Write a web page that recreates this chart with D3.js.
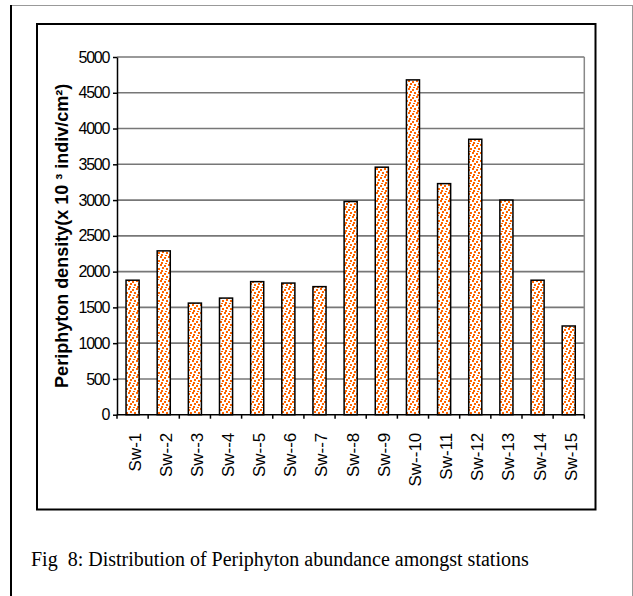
<!DOCTYPE html>
<html>
<head>
	<meta charset="utf-8">
	<title>Periphyton density</title>
	<script type="text/javascript" src="https://cdn.jsdelivr.net/npm/d3@7"></script>
	<style type="text/css">
		body { margin: 0; background: #fff; }
	</style>
</head>
<body>

<div id="chart"></div>

<script type="text/javascript">
// data
const stations = ["Sw-1", "Sw--2", "Sw--3", "Sw--4", "Sw--5", "Sw--6", "Sw--7", "Sw--8",
    "Sw--9", "Sw--10", "Sw-11", "Sw-12", "Sw-13", "Sw-14", "Sw-15"];
const density = [1880, 2290, 1560, 1630, 1860, 1840, 1790, 2980,
    3460, 4680, 3230, 3850, 3000, 1880, 1240];
const yTicks = [0, 500, 1000, 1500, 2000, 2500, 3000, 3500, 4000, 4500, 5000];

const W = 633, H = 596;
const plot = {left: 117, right: 584.3, top: 57, bottom: 414.7};

const svg = d3.select("#chart").append("svg")
    .attr("width", W)
    .attr("height", H);

// dotted fill like the excel pattern
const defs = svg.append("defs");
const pat = defs.append("pattern")
    .attr("id", "dots")
    .attr("patternUnits", "userSpaceOnUse")
    .attr("width", 8)
    .attr("height", 8);
pat.append("rect").attr("width", 8).attr("height", 8).attr("fill", "#fff");
[[0, 0], [4, 1], [2, 3], [6, 4], [1, 6], [5, 7]].forEach(function(p) {
    pat.append("rect")
        .attr("x", p[0]).attr("y", p[1])
        .attr("width", 2).attr("height", 2)
        .attr("fill", "#ff6600");
});

// page frame
svg.append("line").attr("x1", 10).attr("x2", 632.5).attr("y1", 5.5).attr("y2", 5.5)
    .style("stroke", "#999").style("stroke-width", 1);
svg.append("line").attr("x1", 632.5).attr("x2", 632.5).attr("y1", 5).attr("y2", H)
    .style("stroke", "#999").style("stroke-width", 1);
svg.append("line").attr("x1", 11).attr("x2", 11).attr("y1", 5).attr("y2", H)
    .style("stroke", "#000").style("stroke-width", 2);

// chart box
svg.append("rect")
    .attr("x", 37).attr("y", 24)
    .attr("width", 558.5).attr("height", 485.5)
    .style("fill", "none")
    .style("stroke", "#000")
    .style("stroke-width", 2);

const x = d3.scaleBand()
    .domain(stations)
    .range([plot.left, plot.right])
    .paddingInner(0.58)
    .paddingOuter(0.29);

const y = d3.scaleLinear()
    .domain([0, 5000])
    .range([plot.bottom, plot.top]);

// gridlines
svg.selectAll(".grid").data(yTicks.filter(function(d) { return d > 0; })).enter()
    .append("line")
    .attr("class", "grid")
    .attr("x1", plot.left).attr("x2", plot.right)
    .attr("y1", function(d) { return y(d); })
    .attr("y2", function(d) { return y(d); })
    .style("stroke", "#777")
    .style("stroke-width", 1.6);

svg.append("line")
    .attr("x1", plot.right).attr("x2", plot.right)
    .attr("y1", y(5000)).attr("y2", y(0))
    .style("stroke", "#888")
    .style("stroke-width", 1.5);

// bars
svg.selectAll(".bar").data(density).enter()
    .append("rect")
    .attr("class", "bar")
    .attr("x", function(d, i) { return x(stations[i]); })
    .attr("width", x.bandwidth())
    .attr("y", function(d) { return y(d); })
    .attr("height", function(d) { return y(0) - y(d); })
    .style("fill", "url(#dots)")
    .style("stroke", "#000")
    .style("stroke-width", 1.5);

// y axis
const yAxis = svg.append("g")
    .attr("transform", "translate(" + plot.left + ",0)")
    .call(d3.axisLeft(y).tickValues(yTicks).tickFormat(d3.format("d"))
        .tickSize(4).tickPadding(4).tickSizeOuter(0));
yAxis.select(".domain").style("stroke-width", 1.5);
yAxis.selectAll(".tick line").style("stroke-width", 1.5);
yAxis.selectAll("text")
    .style("font-family", "'Liberation Sans', Arial, sans-serif")
    .style("font-size", "16px")
    .style("letter-spacing", "-1.3px")
    .style("fill", "#000");

// x axis with ticks between categories
const xAxis = svg.append("g")
    .attr("transform", "translate(0," + plot.bottom + ")");
xAxis.append("line")
    .attr("x1", plot.left).attr("x2", plot.right)
    .style("stroke", "#000").style("stroke-width", 1.5);
const bounds = stations.map(function(s) { return x(s) + x.bandwidth() / 2 - x.step() / 2; });
bounds.push(plot.right);
xAxis.selectAll(".xt").data(bounds).enter()
    .append("line")
    .attr("class", "xt")
    .attr("x1", function(d) { return d; }).attr("x2", function(d) { return d; })
    .attr("y1", 0).attr("y2", 4)
    .style("stroke", "#000").style("stroke-width", 1.5);
xAxis.selectAll(".xl").data(stations).enter()
    .append("text")
    .attr("class", "xl")
    .attr("transform", function(d) {
        return "translate(" + (x(d) + x.bandwidth() / 2 + 2) + ",18) rotate(-90)";
    })
    .attr("dy", "0.35em")
    .attr("text-anchor", "end")
    .style("font-family", "'Liberation Sans', Arial, sans-serif")
    .style("font-size", "17px")
    .text(function(d) { return d; });

// y title
svg.append("text")
    .attr("transform", "translate(68," + ((plot.top + plot.bottom) / 2) + ") rotate(-90)")
    .attr("text-anchor", "middle")
    .style("font-family", "'Liberation Sans', Arial, sans-serif")
    .style("font-size", "18px")
    .style("font-weight", "bold")
    .text("Periphyton density(x 10 ³ indiv/cm²)");

// caption
svg.append("text")
    .attr("x", 31)
    .attr("y", 566)
    .attr("xml:space", "preserve")
    .style("white-space", "pre")
    .style("font-family", "'Liberation Serif', 'Times New Roman', serif")
    .style("font-size", "20px")
    .text("Fig  8: Distribution of Periphyton abundance amongst stations");
</script>

</body>
</html>
